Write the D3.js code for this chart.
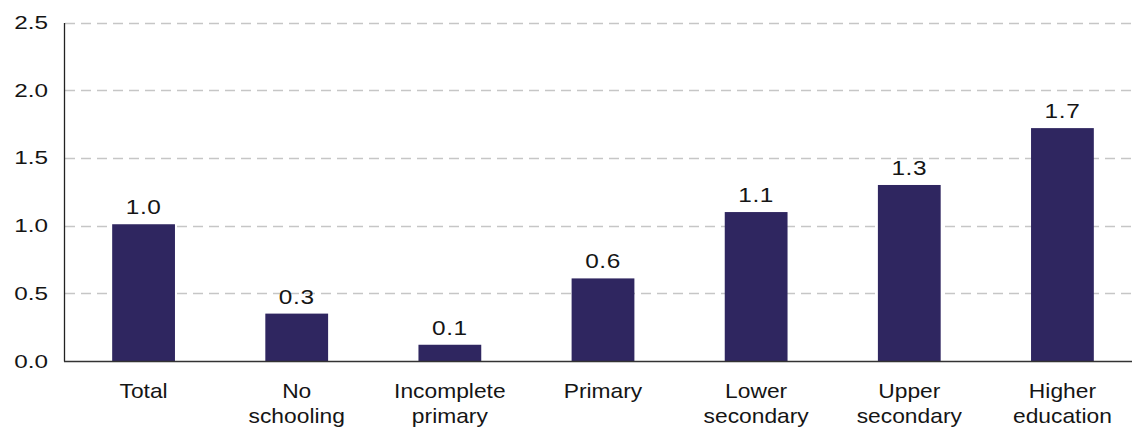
<!DOCTYPE html>
<html>
<head>
<meta charset="utf-8">
<title>Bar chart</title>
<style>
  body { margin: 0; background: #fff; }
  text { font-family: "Liberation Sans", Arial, sans-serif; fill: #151515; }
  .tick-label { font-size: 18px; }
  .val { font-size: 20px; letter-spacing: 0.5px; }
  .cat { font-size: 20px; }
</style>
<script src="https://d3js.org/d3.v7.min.js"></script>
</head>
<body>
<script>
var categories = [["Total"], ["No", "schooling"], ["Incomplete", "primary"], ["Primary"],
                  ["Lower", "secondary"], ["Upper", "secondary"], ["Higher", "education"]];
var values = [1.01, 0.35, 0.12, 0.61, 1.10, 1.30, 1.72];
var valueLabels = ["1.0", "0.3", "0.1", "0.6", "1.1", "1.3", "1.7"];
var yTicks = [0, 0.5, 1.0, 1.5, 2.0, 2.5];

var width = 1132, height = 427;
var svg = d3.select("body").append("svg")
    .attr("width", width).attr("height", height);

var x = d3.scaleBand()
    .domain(d3.range(categories.length))
    .range([67, 1139])
    .paddingInner(0.59)
    .paddingOuter(0.295);

var y = d3.scaleLinear().domain([0, 2.5]).range([361, 22.5]);

// the original type is wide, so stretch it sideways
function place(px, py, sx) {
  return "translate(" + px + "," + py + ") scale(" + sx + ",1)";
}

// gridlines
svg.append("g").selectAll("line").data(yTicks.filter(function(d){ return d > 0; }))
  .enter().append("line")
    .attr("x1", 65).attr("x2", width)
    .attr("y1", function(d){ return Math.round(y(d)) + 0.5; })
    .attr("y2", function(d){ return Math.round(y(d)) + 0.5; })
    .attr("stroke", "#c6c6c6")
    .attr("stroke-width", 1.3)
    .attr("stroke-dasharray", "10,6");

// tick labels
svg.append("g").selectAll("text").data(yTicks)
  .enter().append("text")
    .attr("class", "tick-label")
    .attr("text-anchor", "end")
    .attr("transform", function(d){ return place(48, y(d) + 6.5, 1.35); })
    .text(function(d){ return d3.format(".1f")(d); });

// bars
svg.append("g").selectAll("rect").data(values)
  .enter().append("rect")
    .attr("x", function(d, i){ return x(i); })
    .attr("width", x.bandwidth())
    .attr("y", function(d){ return y(d); })
    .attr("height", function(d){ return y(0) - y(d); })
    .attr("fill", "#2f2660");

// value labels
svg.append("g").selectAll("text").data(values)
  .enter().append("text")
    .attr("class", "val")
    .attr("text-anchor", "middle")
    .attr("transform", function(d, i){ return place(x(i) + x.bandwidth() / 2, y(d) - 10, 1.22); })
    .text(function(d, i){ return valueLabels[i]; });

// axes lines
svg.append("line")
    .attr("x1", 64.5).attr("x2", 64.5).attr("y1", 23).attr("y2", 361.5)
    .attr("stroke", "#222").attr("stroke-width", 1.3);
svg.append("line")
    .attr("x1", 64).attr("x2", width).attr("y1", 361.5).attr("y2", 361.5)
    .attr("stroke", "#333").attr("stroke-width", 1.3);

// category labels
var cats = svg.append("g").selectAll("text").data(categories)
  .enter().append("text")
    .attr("class", "cat")
    .attr("text-anchor", "middle")
    .attr("transform", function(d, i){ return place(x(i) + x.bandwidth() / 2, 398, 1.14); });
cats.selectAll("tspan").data(function(d){ return d; })
  .enter().append("tspan")
    .attr("x", 0)
    .attr("dy", function(d, i){ return i === 0 ? 0 : 25; })
    .text(function(d){ return d; });
</script>
</body>
</html>
